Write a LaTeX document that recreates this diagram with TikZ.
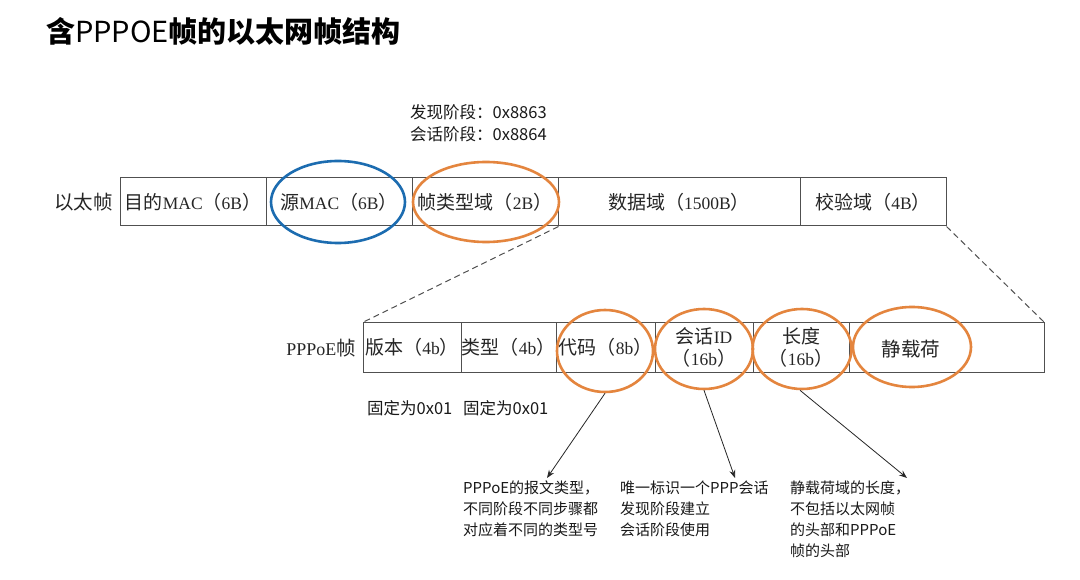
\documentclass[tikz,border=0pt]{standalone}
\usepackage{fontspec}
\setmainfont{Noto Sans CJK SC}
\newfontfamily\lat[Scale=0.92]{Liberation Serif}
\usetikzlibrary{shapes.geometric,arrows.meta}
\definecolor{ln}{RGB}{80,80,80}
\definecolor{org}{RGB}{228,133,62}
\definecolor{blu}{RGB}{28,108,176}
\tikzset{
  fld/.style={draw=ln, line width=1pt, inner sep=0pt, align=center, text=black!85, font=\fontsize{19}{22}\selectfont},
  ethf/.style={fld, minimum height=48pt},
  ppf/.style={fld, minimum height=49pt},
  ring/.style={ellipse, draw=org, line width=2.6pt, inner sep=0pt},
  bring/.style={ellipse, draw=blu, line width=2.6pt, inner sep=0pt},
  lbl/.style={inner sep=0pt, text=black!85, font=\fontsize{19.5}{22}\selectfont},
  note/.style={inner sep=0pt, align=left, font=\fontsize{15}{21}\selectfont, text=black!90},
  small/.style={inner sep=0pt, align=left, font=\fontsize{16.5}{22}\selectfont, text=black!90},
  zoomline/.style={draw=ln, line width=1pt, dashed, dash pattern=on 6pt off 4pt},
  pointer/.style={draw=black!85, line width=0.8pt, -{Stealth[length=8pt,width=6pt]}}
}
\begin{document}
\begin{tikzpicture}[x=1pt,y=-1pt]
\useasboundingbox (0,0) rectangle (1080,580);
\fill[white] (0,0) rectangle (1080,580);

% title
\node[anchor=west, inner sep=0pt, font=\fontsize{29}{33}\selectfont\bfseries] (title) at (46,31)
  {含{\mdseries PPPOE}帧的以太网帧结构};

% ethernet frame
\node[lbl, anchor=east] (ethlbl) at (113,202) {以太帧};
\node[ethf, minimum width=146pt] (dst) at (193,202) {目的{\lat MAC}（{\lat 6B}）};
\node[ethf, minimum width=146pt] (src) at (339,202) {源{\lat MAC}（{\lat 6B}）};
\node[ethf, minimum width=146pt] (typ) at (485,202) {帧类型域（{\lat 2B}）};
\node[ethf, minimum width=242pt] (dat) at (679,202) {数据域（{\lat 1500B}）};
\node[ethf, minimum width=146pt] (fcs) at (873,202) {校验域（{\lat 4B}）};

% type note
\node[small, anchor=north west] (typnote) at (410,104) {发现阶段：0x8863\\会话阶段：0x8864};

% PPPoE frame
\node[lbl, anchor=east] (pplbl) at (356,348) {{\lat PPPoE}帧};
\node[ppf, minimum width=98pt] (ver) at (412,347.5) {版本（{\lat 4b}）};
\node[ppf, minimum width=95pt] (ptp) at (508.5,347.5) {类型（{\lat 4b}）};
\node[ppf, minimum width=99pt] (code) at (605.5,347.5) {代码（{\lat 8b}）};
\node[ppf, minimum width=98pt] (sid) at (704,347.5) {会话{\lat ID}\\（{\lat 16b}）};
\node[ppf, minimum width=96pt] (len) at (801,347.5) {长度\\（{\lat 16b}）};
\node[ppf, minimum width=195pt] (pay) at (946.5,347.5) {};
\node[lbl] (paytxt) at (911,349) {静载荷};

% zoom lines
\draw[zoomline] (typ.south east) -- (ver.north west);
\draw[zoomline] (fcs.south east) -- (pay.north east);

% rings
\node[bring, minimum width=134pt, minimum height=82pt] (srcring) at (338,202) {};
\node[ring, minimum width=146pt, minimum height=80pt] (typring) at (486,202) {};
\node[ring, minimum width=96pt, minimum height=82pt] (codering) at (605,351) {};
\node[ring, minimum width=98pt, minimum height=80pt] (sidring) at (704,349) {};
\node[ring, minimum width=99pt, minimum height=80pt] (lenring) at (802,349) {};
\node[ring, minimum width=118pt, minimum height=80pt] (payring) at (912,347) {};

% fixed notes
\node[small, anchor=west] (fix1) at (367,408) {固定为0x01};
\node[small, anchor=west] (fix2) at (463,408) {固定为0x01};

% bottom notes
\node[note, anchor=north west] (n1) at (463,481) {PPPoE的报文类型，\\不同阶段不同步骤都\\对应着不同的类型号};
\node[note, anchor=north west] (n2) at (620,481) {唯一标识一个PPP会话\\发现阶段建立\\会话阶段使用};
\node[note, anchor=north west] (n3) at (790,481) {静载荷域的长度，\\不包括以太网帧\\的头部和PPPoE\\帧的头部};

\coordinate (a1) at (547,478);
\coordinate (a2) at (735,478);
\coordinate (a3) at (907,478);
\draw[pointer] (codering.south) -- (a1);
\draw[pointer] (sidring.south) -- (a2);
\draw[pointer] ([xshift=-2pt]lenring.south) -- (a3);
\end{tikzpicture}
\end{document}
